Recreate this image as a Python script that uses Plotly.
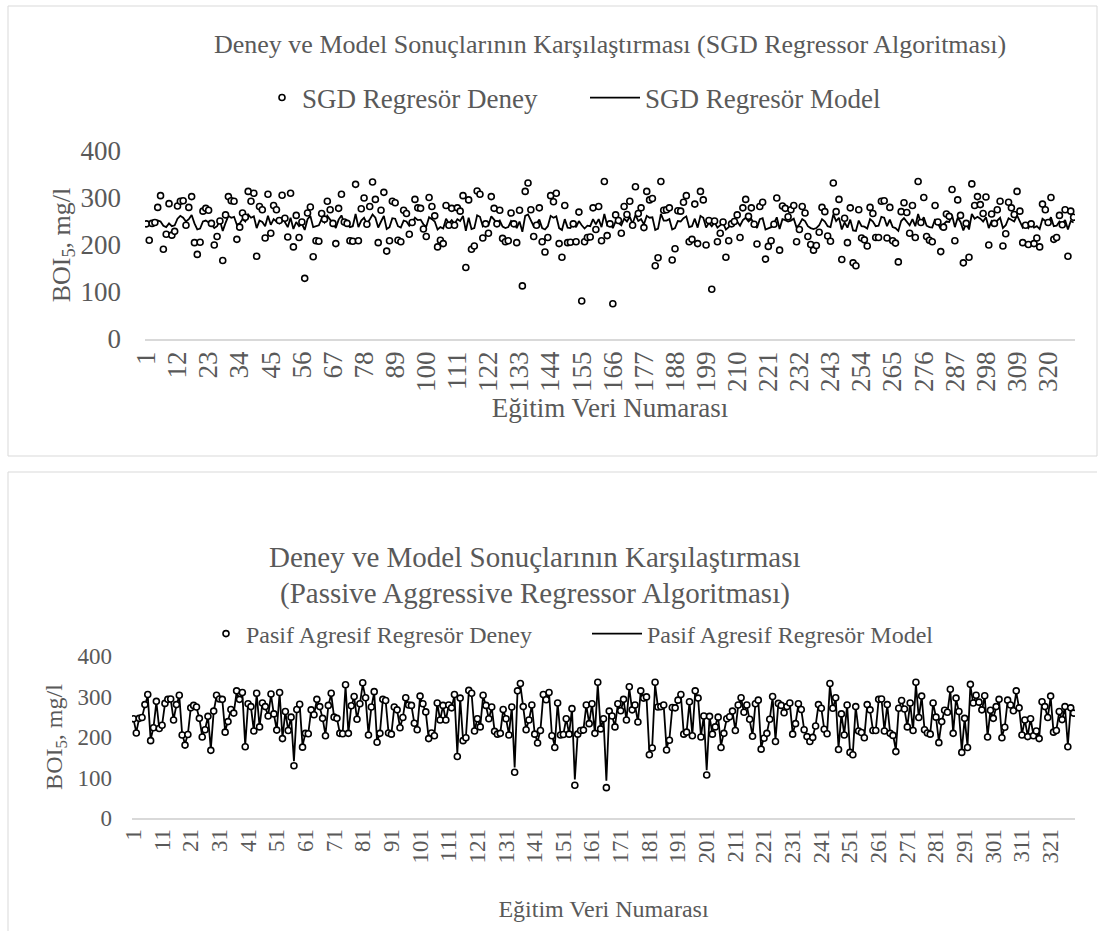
import plotly.graph_objects as go

# ---------------- data ----------------
deney = [245,210,246,248,280,305,191,223,288,221,229,283,293,294,242,280,303,205,180,206,
         272,278,274,246,200,218,251,167,264,303,294,293,212,238,268,259,314,293,310,176,
         282,275,215,308,225,284,275,252,306,257,217,310,196,263,216,249,129,268,281,175,
         209,208,267,255,293,275,246,203,278,308,249,246,209,208,329,209,277,300,244,282,
         334,297,205,274,312,187,209,293,290,210,207,274,267,223,248,297,279,278,234,218,
         301,282,262,196,210,203,284,242,278,242,279,272,305,152,296,191,198,315,308,215,
         245,225,303,278,245,274,214,207,209,268,245,205,274,113,314,332,275,218,242,279,
         207,185,216,305,292,310,203,174,284,205,206,245,207,270,81,207,216,217,279,233,
         282,209,335,220,245,75,264,252,225,282,265,293,242,324,267,279,237,314,296,299,
         156,173,335,274,275,279,168,192,273,272,291,305,207,212,287,203,314,296,200,252,
         106,251,207,225,249,174,209,245,250,264,216,279,297,261,279,244,202,282,291,170,
         197,209,244,300,189,283,278,260,275,284,207,233,282,268,218,201,189,199,227,280,
         271,219,208,332,271,297,169,257,205,279,162,156,275,215,211,198,280,267,216,216,
         293,294,215,280,209,204,164,271,290,269,225,284,216,335,248,301,218,210,207,284,
         249,186,238,266,261,318,209,296,263,162,246,174,330,284,303,286,267,302,200,266,
         246,275,293,198,224,291,279,265,314,272,205,242,201,245,203,215,196,287,275,248,
         301,212,216,263,243,275,176,272,259]

sgd_model = [246,243,249,251,252,250,241,238,246,240,242,256,262,258,250,255,264,246,233,235,
             250,252,248,244,236,240,252,230,247,262,258,260,243,246,255,250,265,258,261,236,
             252,249,240,262,243,255,250,246,259,247,238,258,234,249,240,245,232,255,262,238,
             240,242,256,248,262,255,246,236,254,263,246,244,238,240,266,238,252,258,245,254,
             265,258,237,250,262,234,238,257,256,240,237,252,250,241,247,258,253,254,244,239,
             259,255,250,233,238,235,256,246,253,245,255,251,262,230,258,234,236,263,260,240,
             246,242,261,254,246,252,239,236,238,251,246,236,250,228,262,265,252,240,245,254,
             236,233,240,262,258,261,236,232,255,237,236,247,238,251,242,235,241,240,255,244,
             255,238,266,242,246,236,250,247,242,256,250,260,245,264,251,255,244,262,258,259,
             232,235,266,252,252,255,233,236,251,250,257,261,238,240,256,237,262,258,237,247,
             240,248,237,243,247,233,238,246,248,250,241,253,258,250,255,246,236,255,257,233,
             235,238,246,259,234,255,253,250,252,256,237,244,255,251,240,236,234,236,242,255,
             250,240,238,265,251,258,233,248,237,254,231,230,252,240,239,235,255,250,240,241,
             260,258,240,254,238,236,230,251,257,250,242,255,240,266,247,259,241,238,237,255,
             246,234,244,250,249,264,238,258,249,231,246,233,266,256,260,256,250,259,236,251,
             246,252,258,236,242,257,253,250,263,251,237,245,236,246,237,240,234,256,252,247,
             259,240,241,250,246,253,233,251,248]

pa_model = [244,212,246,249,278,302,194,224,286,222,230,282,292,293,243,279,301,207,183,207,
            271,277,273,246,202,219,251,170,263,301,293,292,214,239,267,259,311,292,308,180,
            281,274,216,306,226,283,274,252,304,256,218,308,198,262,217,249,140,267,280,178,
            210,209,266,255,292,274,246,205,277,306,249,246,210,209,326,210,276,299,244,281,
            330,296,207,273,310,189,210,292,289,211,208,273,266,224,248,296,278,277,234,219,
            299,281,261,198,211,205,283,242,277,242,278,271,303,160,295,193,200,312,306,216,
            245,226,301,277,245,273,215,208,210,267,245,207,273,125,312,328,274,219,242,278,
            208,188,217,303,291,308,205,178,283,206,207,245,208,269,95,208,217,218,278,234,
            281,210,330,221,245,92,263,252,226,281,264,292,242,320,266,278,238,312,295,298,
            162,177,330,273,274,278,172,195,272,271,290,303,208,213,286,205,312,295,202,252,
            118,250,208,226,249,178,210,245,250,263,217,278,296,261,278,244,204,281,290,174,
            199,210,244,298,192,282,277,260,274,283,208,234,281,267,219,203,192,201,228,279,
            270,220,209,328,270,296,173,256,207,278,166,161,274,216,212,200,279,266,217,217,
            292,293,216,279,210,206,168,270,289,268,226,283,217,330,248,299,219,211,208,283,
            249,189,239,265,261,315,210,295,262,166,246,178,326,283,301,285,266,300,202,265,
            246,274,292,200,225,290,278,264,311,271,207,242,203,245,205,216,198,286,274,248,
            299,213,217,262,243,274,180,271,258]

sgd_ticks = [1,12,23,34,45,56,67,78,89,100,111,122,133,144,155,166,177,188,199,210,
             221,232,243,254,265,276,287,298,309,320]
pa_ticks = [1,11,21,31,41,51,61,71,81,91,101,111,121,131,141,151,161,171,181,191,
            201,211,221,231,241,251,261,271,281,291,301,311,321]
y_ticks = [0, 100, 200, 300, 400]

title_top = "Deney ve Model Sonuçlarının Karşılaştırması (SGD Regressor Algoritması)"
title_bot_1 = "Deney ve Model Sonuçlarının Karşılaştırması"
title_bot_2 = "(Passive Aggressive Regressor Algoritması)"
x_title = "Eğitim Veri Numarası"
y_title = "BOI<sub>5</sub>, mg/l"

# ---------------- figure ----------------
W, H = 1104, 931
FONT = "Liberation Serif"
GREY = "#595959"
idx = list(range(1, len(deney) + 1))

def px(x):
    return x / W

def py(y):
    return 1 - y / H

fig = go.Figure()

marker_style = dict(symbol="circle", size=6, color="white",
                    line=dict(color="black", width=1.6))

# top panel
fig.add_trace(go.Scatter(x=idx, y=sgd_model, mode="lines", name="SGD Regresör Model",
                         line=dict(color="black", width=1.8), xaxis="x", yaxis="y",
                         legend="legend2"))
fig.add_trace(go.Scatter(x=idx, y=deney, mode="markers", name="SGD Regresör Deney",
                         marker=marker_style, xaxis="x", yaxis="y", legend="legend"))
# bottom panel
fig.add_trace(go.Scatter(x=idx, y=pa_model, mode="lines", name="Pasif Agresif Regresör Model",
                         line=dict(color="black", width=1.8), xaxis="x2", yaxis="y2",
                         legend="legend4"))
fig.add_trace(go.Scatter(x=idx, y=deney, mode="markers", name="Pasif Agresif Regresör Deney",
                         marker=marker_style, xaxis="x2", yaxis="y2", legend="legend3"))

def xaxis(domain, anchor, ticks, tsize, tisize, standoff):
    return dict(domain=domain, anchor=anchor, range=[0.5, len(deney) + 0.5],
                tickmode="array", tickvals=ticks, ticktext=[str(t) for t in ticks],
                tickangle=-90, showgrid=False, zeroline=False, ticks="",
                showline=True, linecolor="#d9d9d9", linewidth=1.5,
                tickfont=dict(family=FONT, size=tsize, color=GREY),
                title=dict(text=x_title, font=dict(family=FONT, size=tisize, color=GREY),
                           standoff=standoff),
                automargin=False)

def yaxis(domain, anchor, tsize, lstand, tisize, standoff):
    return dict(domain=domain, anchor=anchor, range=[0, 400], tickmode="array",
                tickvals=y_ticks, showgrid=False, zeroline=False, showline=False,
                ticks="", ticklabelstandoff=lstand,
                tickfont=dict(family=FONT, size=tsize, color=GREY),
                title=dict(text=y_title, font=dict(family=FONT, size=tisize, color=GREY),
                           standoff=standoff),
                automargin=False)

def legend(x, y, size, itemwidth=30):
    return dict(x=px(x), y=py(y), orientation="h", xanchor="left", yanchor="middle",
                itemwidth=itemwidth, bgcolor="rgba(0,0,0,0)",
                font=dict(family=FONT, size=size, color=GREY))

fig.update_layout(
    width=W, height=H, margin=dict(l=0, r=0, t=0, b=0),
    paper_bgcolor="white", plot_bgcolor="white", showlegend=True,
    xaxis=xaxis([px(145), px(1075)], "y", sgd_ticks, 27, 27, 7),
    yaxis=yaxis([py(339), py(151)], "x", 27, 23, 26, 2),
    xaxis2=xaxis([px(132), px(1075)], "y2", pa_ticks, 23, 24, 38),
    yaxis2=yaxis([py(818), py(656)], "x2", 23, 19, 24, 8),
    legend=legend(262, 98, 27),
    legend2=legend(585, 98, 27, 50),
    legend3=legend(206, 634, 24),
    legend4=legend(587, 634, 24, 50),
    annotations=[
        dict(text=title_top, x=px(610), y=py(45), xref="paper", yref="paper",
             showarrow=False, xanchor="center", yanchor="middle",
             font=dict(family=FONT, size=26, color=GREY)),
        dict(text=title_bot_1, x=px(535), y=py(557), xref="paper", yref="paper",
             showarrow=False, xanchor="center", yanchor="middle",
             font=dict(family=FONT, size=29, color=GREY)),
        dict(text=title_bot_2, x=px(535), y=py(593), xref="paper", yref="paper",
             showarrow=False, xanchor="center", yanchor="middle",
             font=dict(family=FONT, size=29, color=GREY)),
    ],
    shapes=[
        dict(type="rect", xref="paper", yref="paper", x0=px(8), x1=px(1097),
             y0=py(456), y1=py(6), line=dict(color="#d9d9d9", width=1)),
        dict(type="line", xref="paper", yref="paper", x0=px(8), x1=px(1097),
             y0=py(472), y1=py(472), line=dict(color="#d9d9d9", width=1)),
        dict(type="line", xref="paper", yref="paper", x0=px(8), x1=px(8),
             y0=py(472), y1=0, line=dict(color="#d9d9d9", width=1)),
    ],
)

fig.write_html("out.html", config={"displayModeBar": False},
               post_script="document.body.style.margin='0';")
